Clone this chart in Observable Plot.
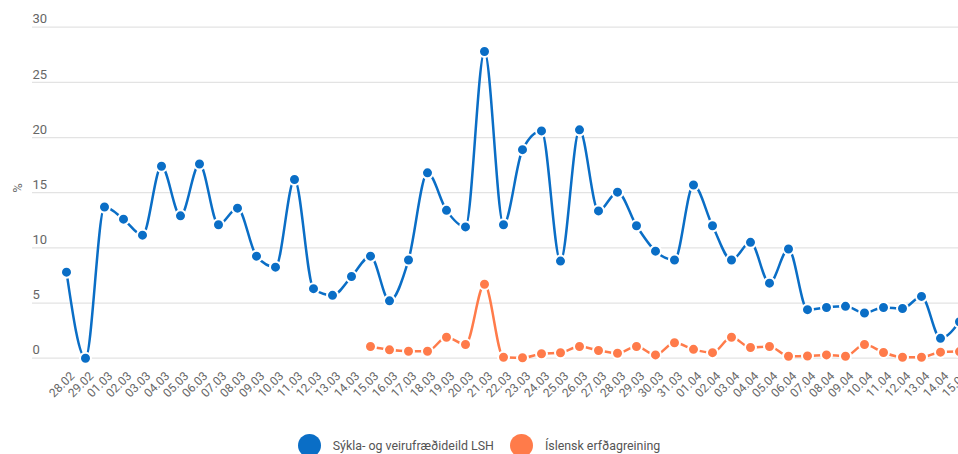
<!DOCTYPE html>
<html><head><meta charset="utf-8">
<script src="https://cdn.jsdelivr.net/npm/d3@7"></script>
<script src="https://cdn.jsdelivr.net/npm/@observablehq/plot@0.6"></script>
<style>
html,body{margin:0;padding:0;background:#fff;overflow:hidden;width:958px;height:454px;}
#chart svg{max-width:none !important;display:block;}
#legend{width:958px;display:flex;justify-content:center;align-items:center;font-family:Roboto,sans-serif;font-size:12.4px;color:#555;margin-top:14px;}
.sw{width:23px;height:23px;border-radius:50%;display:inline-block;margin-right:12px;}
.item{display:flex;align-items:center;margin:0 8px;}
</style>
</head><body>
<div id="chart"></div>
<div id="legend"></div>
<script>
const dates = ["28.02","29.02","01.03","02.03","03.03","04.03","05.03","06.03","07.03","08.03","09.03","10.03","11.03","12.03","13.03","14.03","15.03","16.03","17.03","18.03","19.03","20.03","21.03","22.03","23.03","24.03","25.03","26.03","27.03","28.03","29.03","30.03","31.03","01.04","02.04","03.04","04.04","05.04","06.04","07.04","08.04","09.04","10.04","11.04","12.04","13.04","14.04","15.04"];
const lsh = [7.8,0,13.7,12.6,11.15,17.4,12.9,17.6,12.1,13.6,9.25,8.25,16.2,6.3,5.7,7.4,9.25,5.2,8.9,16.8,13.4,11.9,27.8,12.1,18.9,20.6,8.8,20.7,13.35,15.05,12.0,9.7,8.9,15.7,12.0,8.9,10.5,6.8,9.9,4.4,4.6,4.7,4.1,4.6,4.5,5.6,1.8,3.3];
const ieDates = dates.slice(16);
const ie = [1.06,0.76,0.63,0.63,1.9,1.24,6.7,0.09,0.04,0.4,0.49,1.06,0.7,0.45,1.06,0.3,1.4,0.8,0.5,1.9,0.97,1.06,0.18,0.2,0.3,0.18,1.24,0.52,0.09,0.09,0.55,0.6];
const seriesNames = ["Sýkla- og veirufræðideild LSH","Íslensk erfðagreining"];
const colors = ["#0a6ec6","#ff7b4a"];
const yTicks = [0,5,10,15,20,25,30];

const dLsh = dates.map((d,i)=>({date:d, value:lsh[i]}));
const dIe = ieDates.map((d,i)=>({date:d, value:ie[i]}));

const plot = Plot.plot({
  width: 993, height: 420,
  marginLeft: 32, marginRight: 0, marginTop: 26.7, marginBottom: 62.3,
  style: {fontFamily: "Roboto, sans-serif", background: "#fff"},
  x: {type: "point", domain: dates, padding: 1.677, label: null},
  y: {domain: [0,30], label: null},
  marks: [
    Plot.ruleY(yTicks, {stroke: "#e3e3e3", strokeWidth: 1.2}),
    Plot.axisY(yTicks, {tickSize: 0, tickPadding: 0, textAnchor: "start", dx: 0, dy: -8, fontSize: 13, fill: "#666", label: null}),
    Plot.axisX({tickSize: 0, tickRotate: -45, fontSize: 12, fill: "#666", dx: 6, dy: 4, label: null}),
    Plot.text(["%"], {frameAnchor: "left", rotate: -90, dx: -15, fontSize: 13, fill: "#666"}),
    Plot.line(dLsh, {x: "date", y: "value", stroke: colors[0], strokeWidth: 2.5, curve: "monotone-x"}),
    Plot.dot(dLsh, {x: "date", y: "value", r: 5.5, fill: colors[0], stroke: "#fff", strokeWidth: 2}),
    Plot.line(dIe, {x: "date", y: "value", stroke: colors[1], strokeWidth: 2.5, curve: "monotone-x"}),
    Plot.dot(dIe, {x: "date", y: "value", r: 5.5, fill: colors[1], stroke: "#fff", strokeWidth: 2})
  ]
});
document.getElementById("chart").appendChild(plot);
const lg = document.getElementById("legend");
seriesNames.forEach((n,i)=>{
  const it = document.createElement("div"); it.className="item";
  const s = document.createElement("span"); s.className="sw"; s.style.background=colors[i];
  const t = document.createElement("span"); t.textContent=n;
  it.appendChild(s); it.appendChild(t); lg.appendChild(it);
});
</script>
</body></html>
